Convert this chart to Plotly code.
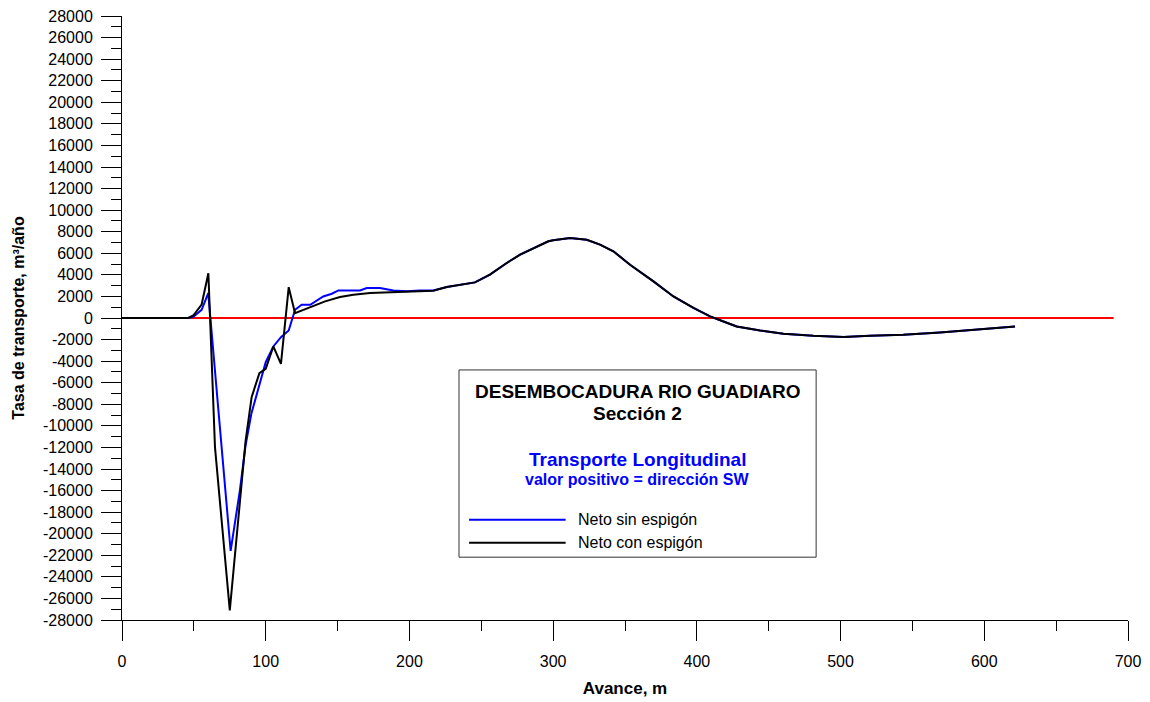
import plotly.graph_objects as go

# Net longshore transport along the section (m3/año), two scenarios
avance_sin = [0, 10, 20, 30, 40, 46, 49.6, 55.4, 60.0, 75.6, 82.0, 86.0, 90.0, 95.6,
              100.0, 105.3, 110.6, 116.0, 120.4, 125.0, 131.0, 140.0, 146.0, 150.6,
              158.7, 165.6, 170.3, 179.5, 188.8, 198.0, 207.4, 216.6, 226.0, 235.0, 245.6]
neto_sin = [0, 0, 0, 0, 0, 0, 100, 760, 2300, -21600, -16000, -11800, -8880, -6100,
            -4100, -2640, -1780, -1160, 760, 1230, 1230, 2000, 2250, 2560,
            2560, 2560, 2780, 2780, 2560, 2470, 2560, 2560, 2870, 3090, 3300]

avance_con = [0, 10, 20, 30, 40, 46, 49.6, 55.4, 60.1, 64.7, 75.0, 80.0, 86.0, 90.2,
              95.6, 100.0, 105.3, 110.6, 116.0, 120.4, 130.8, 141.3, 151.7, 161.0,
              172.6, 186.5, 200.4, 216.6, 226.0, 235.0, 245.6]
neto_con = [0, 0, 0, 0, 0, 0, 230, 1250, 4150, -11980, -27100, -20000, -11400, -7340,
            -5110, -4710, -2640, -4250, 2860, 450, 1020, 1540, 1950, 2160,
            2320, 2380, 2470, 2530, 2870, 3090, 3300]

# Shared stretch beyond the groyne influence
avance_comun = [256.0, 267.7, 277.0, 288.6, 296.7, 300.0, 311.8, 323.4, 332.6, 341.9,
                353.5, 369.8, 383.7, 397.6, 409.2, 418.5, 427.7, 444.0, 460.2, 481.0,
                502.0, 520.5, 543.7, 569.2, 600.0, 621.4]
neto_comun = [4020, 5100, 5870, 6640, 7110, 7200, 7420, 7260, 6800, 6190,
              4940, 3400, 2000, 930, 150, -320, -780, -1150, -1460, -1650,
              -1760, -1650, -1550, -1340, -1000, -780]

# Zero reference line
cero_x = [0, 690]
cero_y = [0, 0]

x_ticks = [0, 100, 200, 300, 400, 500, 600, 700]
y_ticks = list(range(-28000, 28001, 2000))
y_labels = [str(v) for v in y_ticks]

FONT = "Liberation Sans, Arial, sans-serif"

fig = go.Figure()
fig.add_trace(go.Scatter(x=cero_x, y=cero_y, mode="lines",
                         line=dict(color="#FF0000", width=2), showlegend=False))
fig.add_trace(go.Scatter(x=avance_sin + avance_comun, y=neto_sin + neto_comun,
                         mode="lines", line=dict(color="#0000FF", width=2),
                         name="Neto sin espigón", showlegend=False))
fig.add_trace(go.Scatter(x=avance_con + avance_comun, y=neto_con + neto_comun,
                         mode="lines", line=dict(color="#000000", width=2),
                         name="Neto con espigón", showlegend=False))

fig.update_layout(
    width=1150, height=702,
    margin=dict(l=122, r=22, t=16, b=82, autoexpand=False),
    paper_bgcolor="white", plot_bgcolor="white",
    font=dict(family=FONT, size=16, color="black"),
    xaxis=dict(
        range=[0, 700], tickvals=x_ticks, ticks="outside", ticklen=20,
        tickcolor="black", tickwidth=1, showline=True, linecolor="black",
        linewidth=1, showgrid=False, zeroline=False, ticklabelstandoff=7,
        automargin=False,
        minor=dict(dtick=50, tick0=0, ticks="outside", ticklen=10,
                   tickcolor="black", showgrid=False),
        title=dict(text="<b>Avance, m</b>", font=dict(size=17), standoff=12),
    ),
    yaxis=dict(
        range=[-28000, 28000], tickvals=y_ticks, ticktext=y_labels,
        ticks="outside", ticklen=20, tickcolor="black", tickwidth=1,
        showline=True, linecolor="black", linewidth=1, showgrid=False,
        zeroline=False, ticklabelstandoff=5, automargin=False,
        minor=dict(dtick=1000, tick0=0, ticks="outside", ticklen=10,
                   tickcolor="black", showgrid=False),
        title=dict(text="<b>Tasa de transporte, m³/año</b>", font=dict(size=16),
                   standoff=14),
    ),
)

# Caption box with title and line key
fig.add_shape(type="rect", xref="paper", yref="paper",
              x0=0.335, x1=0.690, y0=0.104, y1=0.414,
              line=dict(color="#333333", width=1), fillcolor="white", layer="above")

fig.add_annotation(xref="paper", yref="paper", x=0.512, y=0.379,
                   text="<b>DESEMBOCADURA RIO GUADIARO</b>", showarrow=False,
                   font=dict(size=19, color="black"), xanchor="center", yanchor="middle")
fig.add_annotation(xref="paper", yref="paper", x=0.512, y=0.342,
                   text="<b>Sección 2</b>", showarrow=False,
                   font=dict(size=19, color="black"), xanchor="center", yanchor="middle")
fig.add_annotation(xref="paper", yref="paper", x=0.512, y=0.265,
                   text="<b>Transporte Longitudinal</b>", showarrow=False,
                   font=dict(size=19, color="#0000FF"), xanchor="center", yanchor="middle")
fig.add_annotation(xref="paper", yref="paper", x=0.512, y=0.232,
                   text="<b>valor positivo = dirección SW</b>", showarrow=False,
                   font=dict(size=16, color="#0000FF"), xanchor="center", yanchor="middle")

for yk, color, label in [(0.166, "#0000FF", "Neto sin espigón"),
                         (0.128, "#000000", "Neto con espigón")]:
    fig.add_shape(type="line", xref="paper", yref="paper",
                  x0=0.345, x1=0.441, y0=yk, y1=yk,
                  line=dict(color=color, width=2), layer="above")
    fig.add_annotation(xref="paper", yref="paper", x=0.451, y=yk, text=label,
                       showarrow=False, font=dict(size=16, color="black"),
                       xanchor="left", yanchor="middle")

fig.write_html("out.html")
